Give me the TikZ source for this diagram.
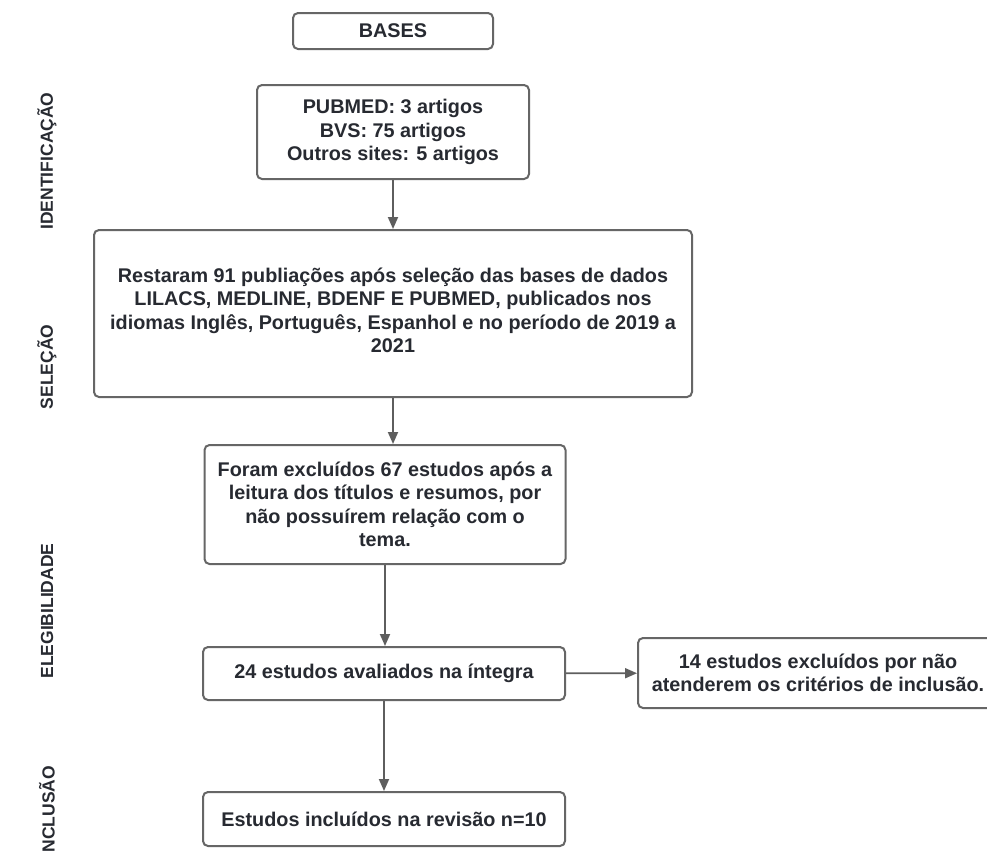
\documentclass[tikz,border=0pt]{standalone}
\usepackage{fontspec}
\setmainfont{Liberation Sans}
\usetikzlibrary{arrows.meta}
\definecolor{boxline}{HTML}{666666}
\definecolor{txt}{HTML}{272A31}
\definecolor{arr}{HTML}{5E5E5E}
\begin{document}
\begin{tikzpicture}[x=1pt,y=-1pt,
  box/.style={draw=boxline, line width=2pt, rounded corners=5pt, fill=white, text=txt,
    font=\bfseries\fontsize{19.8}{23.5}\selectfont, align=center, inner sep=0pt},
  flow/.style={draw=arr, line width=1.8pt, -{Triangle[length=12pt,width=10pt]}},
  side/.style={rotate=90, text=txt, font=\bfseries\fontsize{17.5}{20}\selectfont, inner sep=0pt}]
\useasboundingbox (0,0) rectangle (987,857);
\fill[white] (0,0) rectangle (987,857);

\node[box, minimum width=200pt, minimum height=36pt] (bases) at (393,31) {BASES};
\node[box, minimum width=272pt, minimum height=94pt] (ident) at (393,132)
  {PUBMED: 3 artigos\\BVS: 75 artigos\\Outros sites: 5 artigos};
\node[box, minimum width=598pt, minimum height=167pt, text depth=7pt] (sel) at (393,313.5)
  {Restaram 91 publiações após seleção das bases de dados\\LILACS, MEDLINE, BDENF E PUBMED, publicados nos\\idiomas Inglês, Português, Espanhol e no período de 2019 a\\2021};
\node[box, minimum width=361pt, minimum height=119pt] (foram) at (385,504.5)
  {Foram excluídos 67 estudos após a\\leitura dos títulos e resumos, por\\não possuírem relação com o\\tema.};
\node[box, minimum width=362pt, minimum height=53pt] (aval) at (384,673.5)
  {24 estudos avaliados na íntegra};
\begin{scope}
\clip (0,0) rectangle (987,857);
\node[box, minimum width=360pt, minimum height=70pt] (excl) at (818,673)
  {14 estudos excluídos por não\\atenderem os critérios de inclusão.};
\end{scope}
\node[box, minimum width=362pt, minimum height=54pt] (incl) at (384,819)
  {Estudos incluídos na revisão n=10};

\draw[flow] (ident) -- (sel);
\draw[flow] (sel.south) -- (sel.south |- foram.north);
\draw[flow] (foram.south) -- (foram.south |- aval.north);
\draw[flow] (aval) -- (incl);
\draw[flow] (aval) -- (excl);

\node[side] (l1) at (47,161) {IDENTIFICAÇÃO};
\node[side] (l2) at (47,367) {SELEÇÃO};
\node[side] (l3) at (47,611) {ELEGIBILIDADE};
\node[side] (l4) at (47,809) {NCLUSÃO};
\end{tikzpicture}
\end{document}
